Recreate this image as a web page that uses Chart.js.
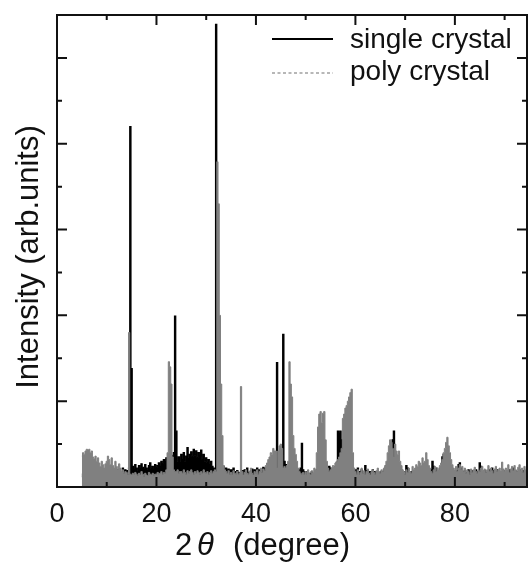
<!DOCTYPE html>
<html lang="en">
<head>
<meta charset="UTF-8">
<title>XRD pattern</title>
<script src="https://cdn.jsdelivr.net/npm/chart.js"></script>
<style>
body { margin: 0; background: #fff; }
#wrap { width: 528px; height: 568px; }
</style>
</head>
<body>
<div id="wrap"><canvas id="xrdChart"></canvas></div>
<script>
// scan: 2theta from 5 deg in 0.25 deg steps, one row = 5 deg
const thetaStart = 5;
const thetaStep = 0.25;

const singleCrystal = [
  12, 15, 10, 14, 18, 12, 16, 22, 14, 20, 15, 12, 18, 14, 16, 20, 13, 17, 15, 18,   // 5
  14, 12, 16, 18, 13, 15, 17, 12, 14, 20, 16, 13, 15, 22, 18, 20, 16, 19, 22, 420,  // 10
  138, 24, 20, 26, 22, 18, 25, 21, 27, 23, 20, 26, 22, 19, 25, 28, 21, 24, 20, 26,  // 15
  22, 25, 28, 24, 30, 27, 32, 29, 34, 31, 36, 33, 37, 35, 40, 199, 65, 30, 35, 28,  // 20
  38, 32, 40, 30, 36, 46, 33, 38, 41, 35, 44, 37, 42, 34, 40, 36, 43, 32, 38, 30,   // 25
  34, 28, 32, 26, 30, 24, 22, 20, 539, 40, 30, 28, 25, 22, 24, 20, 22, 18, 21, 17,  // 30
  20, 16, 22, 18, 12, 19, 17, 14, 15, 19, 16, 20, 18, 22, 17, 15, 19, 21, 16, 20,   // 35
  18, 22, 17, 20, 15, 19, 23, 18, 22, 20, 26, 24, 30, 28, 35, 32, 38, 145, 35, 40,  // 40
  42, 38, 178, 30, 26, 22, 20, 25, 22, 20, 18, 21, 19, 17, 20, 18, 22, 51, 20, 16,  // 45
  18, 14, 12, 16, 15, 18, 14, 16, 18, 20, 22, 25, 22, 20, 24, 20, 18, 22, 20, 24,   // 50
  22, 18, 16, 20, 24, 28, 65, 62, 65, 55, 30, 28, 26, 24, 22, 25, 20, 18, 22, 19,   // 55
  20, 16, 22, 14, 18, 20, 15, 17, 25, 16, 19, 14, 18, 16, 20, 15, 18, 16, 14, 17,   // 60
  15, 18, 16, 20, 22, 25, 28, 30, 35, 40, 55, 65, 40, 32, 28, 25, 22, 20, 17, 15,   // 65
  18, 25, 22, 16, 14, 18, 16, 19, 17, 20, 18, 22, 20, 18, 22, 20, 24, 22, 20, 18,   // 70
  16, 20, 30, 24, 18, 22, 16, 19, 22, 20, 35, 38, 30, 35, 32, 28, 25, 22, 20, 18,   // 75
  16, 19, 17, 26, 28, 22, 18, 15, 19, 17, 14, 20, 18, 16, 19, 17, 15, 20, 18, 16,   // 80
  28, 24, 18, 16, 19, 17, 15, 18, 20, 17, 22, 19, 16, 18, 20, 17, 15, 18, 16, 19,   // 85
  17, 15, 19, 16, 20, 18, 15, 22, 17, 19, 16, 18, 20, 17, 15, 19, 16, 18, 17, 15    // 90
];

const polyCrystal = [
  36, 40, 38, 42, 44, 43, 44, 40, 42, 35, 33, 36, 30, 34, 28, 24, 30, 26, 22, 27,   // 5
  30, 36, 32, 26, 34, 25, 22, 30, 24, 20, 27, 22, 18, 20, 16, 18, 17, 15, 180, 15,  // 10
  14, 16, 14, 17, 15, 13, 16, 14, 18, 15, 12, 16, 14, 13, 17, 15, 14, 16, 13, 15,   // 15
  15, 17, 14, 16, 18, 15, 17, 16, 20, 40, 146, 140, 120, 35, 20, 18, 18, 20, 16, 18, // 20
  18, 16, 20, 17, 15, 19, 16, 18, 20, 17, 15, 18, 16, 19, 17, 15, 18, 16, 20, 17,   // 25
  16, 18, 15, 17, 19, 16, 18, 20, 18, 379, 330, 200, 120, 60, 25, 20, 18, 16, 19, 15, // 30
  17, 15, 19, 16, 14, 18, 15, 16, 117, 18, 14, 17, 20, 16, 15, 18, 22, 16, 14, 18,  // 35
  16, 20, 15, 18, 22, 17, 21, 19, 25, 28, 32, 35, 40, 38, 45, 42, 42, 22, 42, 48,   // 40
  50, 45, 22, 24, 22, 25, 30, 146, 120, 105, 60, 45, 38, 30, 22, 18, 16, 14, 17, 15, // 45
  18, 15, 20, 16, 14, 19, 17, 22, 20, 40, 70, 85, 88, 75, 86, 88, 55, 30, 22, 18,   // 50
  20, 22, 25, 24, 28, 30, 32, 35, 40, 45, 80, 85, 92, 95, 100, 105, 110, 114, 40, 22, // 55
  18, 15, 20, 14, 17, 22, 16, 19, 15, 18, 21, 16, 14, 18, 20, 17, 15, 19, 22, 18,   // 60
  16, 20, 18, 22, 25, 30, 40, 48, 55, 52, 45, 35, 50, 42, 38, 42, 30, 25, 20, 18,   // 65
  15, 20, 17, 22, 18, 16, 24, 20, 22, 26, 24, 30, 28, 25, 34, 28, 30, 40, 32, 25,   // 70
  22, 18, 16, 20, 24, 18, 22, 20, 25, 28, 32, 40, 45, 52, 58, 48, 40, 32, 26, 22,   // 75
  20, 24, 18, 22, 26, 20, 24, 18, 22, 16, 20, 18, 15, 21, 17, 20, 23, 18, 16, 20,   // 80
  18, 22, 24, 19, 21, 17, 20, 25, 18, 22, 19, 16, 21, 24, 18, 20, 22, 19, 29, 21,   // 85
  18, 22, 20, 26, 17, 21, 24, 19, 25, 20, 18, 23, 26, 19, 22, 17, 24, 20, 22, 19    // 90
];

const seriesNames = ['single crystal', 'poly crystal'];
const xLabelTicks = [0, 20, 40, 60, 80];

const FONT = "'Liberation Sans', Arial, sans-serif";
const theta = singleCrystal.map((_, i) => thetaStart + i * thetaStep);
const toPoints = vals => vals.map((v, i) => ({ x: theta[i], y: v }));

// box around the plot with inward ticks on all four sides
const frameTicks = {
  id: 'frameTicks',
  afterDatasetsDraw(chart) {
    const { ctx, chartArea: a, scales: { x, y } } = chart;
    ctx.save();
    ctx.strokeStyle = '#111';
    ctx.lineWidth = 2;
    ctx.strokeRect(a.left, a.top, a.right - a.left, a.bottom - a.top);
    ctx.beginPath();
    for (let v = 10; v < x.max; v += 10) {
      const px = x.getPixelForValue(v);
      const len = v % 20 === 0 ? 10 : 5;
      ctx.moveTo(px, a.bottom); ctx.lineTo(px, a.bottom - len);
      ctx.moveTo(px, a.top); ctx.lineTo(px, a.top + len);
    }
    for (let v = 50; v < y.max; v += 50) {
      const py = y.getPixelForValue(v);
      const len = v % 100 === 0 ? 10 : 5;
      ctx.moveTo(a.left, py); ctx.lineTo(a.left + len, py);
      ctx.moveTo(a.right, py); ctx.lineTo(a.right - len, py);
    }
    ctx.stroke();
    ctx.restore();
  }
};

// legend inside the top right corner, axis titles
const labels = {
  id: 'labels',
  afterDraw(chart) {
    const { ctx, chartArea: a } = chart;
    ctx.save();
    ctx.fillStyle = '#111';

    const lx0 = a.right - 255, lx1 = a.right - 194;
    ctx.lineWidth = 2;
    ctx.strokeStyle = '#000';
    ctx.beginPath(); ctx.moveTo(lx0, 39); ctx.lineTo(lx1, 39); ctx.stroke();
    ctx.lineWidth = 1.5;
    ctx.strokeStyle = '#a0a0a0';
    ctx.setLineDash([3, 2.5]);
    ctx.beginPath(); ctx.moveTo(lx0, 73); ctx.lineTo(lx1, 73); ctx.stroke();
    ctx.setLineDash([]);
    ctx.font = '28px ' + FONT;
    ctx.textBaseline = 'alphabetic';
    ctx.fillText(seriesNames[0], a.right - 177, 48);
    ctx.fillText(seriesNames[1], a.right - 177, 80);

    // x title: 2θ (degree)
    ctx.font = '31px ' + FONT;
    ctx.fillText('2', 175, 555);
    ctx.font = 'italic 31px ' + FONT;
    ctx.fillText('θ', 197, 555);
    ctx.font = '31px ' + FONT;
    ctx.fillText('(degree)', 233, 555);

    // y title
    ctx.translate(29, 257);
    ctx.rotate(-Math.PI / 2);
    ctx.textAlign = 'center';
    ctx.textBaseline = 'middle';
    ctx.fillText('Intensity (arb.units)', 0, 0);
    ctx.restore();
  }
};

new Chart(document.getElementById('xrdChart'), {
  type: 'line',
  data: {
    datasets: [
      {
        label: seriesNames[0],
        data: toPoints(singleCrystal),
        borderColor: '#000',
        backgroundColor: '#000',
        borderWidth: 1.2,
        stepped: 'middle',
        pointRadius: 0,
        fill: 'origin',
        order: 1
      },
      {
        label: seriesNames[1],
        data: toPoints(polyCrystal),
        borderColor: '#808080',
        backgroundColor: '#808080',
        borderWidth: 1,
        stepped: 'middle',
        pointRadius: 0,
        fill: 'origin',
        order: 0
      }
    ]
  },
  options: {
    responsive: true,
    maintainAspectRatio: false,
    animation: false,
    layout: { padding: { top: 15, right: 1, left: 0, bottom: 0 } },
    plugins: { legend: { display: false }, tooltip: { enabled: false } },
    scales: {
      x: {
        type: 'linear',
        min: 0,
        max: 94.5,
        grid: { display: false },
        border: { display: false },
        ticks: {
          stepSize: 20,
          includeBounds: false,
          padding: 3,
          color: '#111',
          font: { family: FONT, size: 27 },
          callback: v => xLabelTicks.includes(v) ? String(v) : ''
        },
        afterFit: s => { s.height = 81; }
      },
      y: {
        min: 0,
        max: 550,
        grid: { display: false },
        border: { display: false },
        ticks: { display: false },
        afterFit: s => { s.width = 57; }
      }
    }
  },
  plugins: [frameTicks, labels]
});
</script>
</body>
</html>
